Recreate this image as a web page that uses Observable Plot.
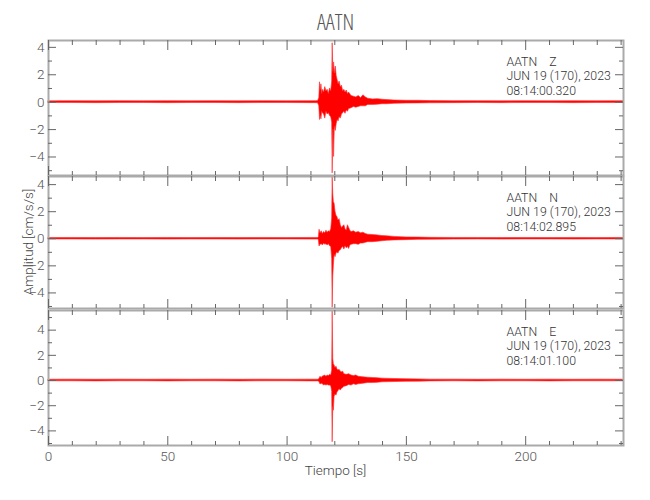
<!DOCTYPE html>
<html><head><meta charset="utf-8">
<script src="https://cdn.jsdelivr.net/npm/d3@7"></script>
<script src="https://cdn.jsdelivr.net/npm/@observablehq/plot@0.6"></script>
<style>
body{margin:0;background:#fff;}
#wrap{position:relative;width:650px;height:500px;overflow:hidden;font-family:Roboto,sans-serif;font-weight:300;}
.p{position:absolute;left:0;}
#title{position:absolute;top:9px;left:48px;width:575px;text-align:center;font-family:"Open Sans",sans-serif;font-stretch:condensed;font-weight:300;font-size:22px;line-height:1.1;color:#555;}
#ylab{position:absolute;left:28px;top:242px;transform:translate(-50%,-50%) rotate(-90deg);font-size:13.5px;color:#444;white-space:nowrap;}
#xlab{position:absolute;left:48px;width:575px;top:462px;text-align:center;font-size:13.5px;color:#444;}
</style></head>
<body><div id="wrap"><div id="title">AATN</div><div id="ylab">Amplitud [cm/s/s]</div><div id="xlab">Tiempo [s]</div></div>
<script>
const station = "AATN";
const components = ["Z", "N", "E"];
const dateLabel = "JUN 19 (170), 2023";
const startTimes = ["08:14:00.320", "08:14:02.895", "08:14:01.100"];
const xTicks = [0, 50, 100, 150, 200];
const yTicks = [-4, -2, 0, 2, 4];

// [time s, upper envelope, lower envelope]
const traceZ = [[0,0.06,-0.06],[10,0.07,-0.06],[20,0.06,-0.07],[30,0.07,-0.06],[40,0.06,-0.06],[50,0.07,-0.07],[60,0.06,-0.06],[70,0.07,-0.06],[80,0.06,-0.07],[90,0.07,-0.06],[100,0.06,-0.06],[110,0.07,-0.07],[112,0.07,-0.07],
[113,0.08,-0.08],[113.5,0.3,-0.3],[113.8,1.45,-1.3],[114.1,0.9,-1.0],[114.4,1.3,-1.25],[114.7,0.6,-0.7],[115,0.9,-0.8],[115.5,0.7,-0.9],[116,1.1,-1.2],[116.5,0.8,-0.7],[117,0.9,-0.9],[117.5,0.6,-0.8],[118,1.0,-1.0],[118.5,0.8,-1.1],[118.9,1.5,-1.5],[119.1,4.3,-5.2],[119.4,2.2,-2.0],[119.7,2.9,-4.0],[120,2.1,-1.8],[120.4,2.6,-2.1],[120.8,1.9,-1.6],[121.2,1.6,-1.3],[121.6,1.3,-1.4],[122,1.5,-1.1],[122.5,1.1,-1.2],[123,1.2,-0.9],[123.5,0.8,-0.8],[124,0.9,-0.7],[124.5,0.7,-0.85],[125,0.85,-0.6],[125.5,0.6,-0.7],[126,0.7,-0.5],[127,0.45,-0.45],[128,0.4,-0.35],[129,0.35,-0.4],[130,0.45,-0.35],[131,0.3,-0.3],[132,0.5,-0.3],[133,0.35,-0.3],[134,0.25,-0.2],[136,0.2,-0.2],[138,0.22,-0.18],[140,0.18,-0.15],[142,0.15,-0.15],[145,0.12,-0.12],[150,0.1,-0.1],[155,0.1,-0.09],[160,0.08,-0.08],[170,0.07,-0.07],[180,0.07,-0.06],[190,0.06,-0.07],[200,0.07,-0.06],[210,0.06,-0.06],[220,0.07,-0.07],[230,0.06,-0.06],[241,0.07,-0.06]];

const traceN = [[0,0.05,-0.05],[10,0.06,-0.05],[20,0.05,-0.06],[30,0.06,-0.05],[40,0.05,-0.05],[50,0.06,-0.06],[60,0.05,-0.05],[70,0.06,-0.05],[80,0.05,-0.06],[90,0.06,-0.05],[100,0.05,-0.05],[110,0.06,-0.06],[113,0.06,-0.06],
[113.3,0.1,-0.1],[113.6,0.67,-0.57],[114,0.4,-0.45],[114.5,0.55,-0.4],[115,0.35,-0.5],[115.5,0.5,-0.35],[116,0.4,-0.45],[116.5,0.6,-0.4],[117,0.45,-0.5],[117.5,0.55,-0.4],[118,0.5,-0.55],[118.5,0.7,-0.6],[118.9,1.5,-1.5],[119.1,4.6,-5.1],[119.35,3.3,-2.8],[119.6,2.7,-2.0],[119.9,2.6,-1.2],[120.3,2.0,-1.36],[120.7,1.7,-1.1],[121.1,1.6,-1.0],[121.5,1.35,-1.1],[122,1.45,-0.9],[122.5,1.0,-0.85],[123,0.8,-0.7],[123.5,0.9,-0.6],[124,1.0,-0.8],[124.5,0.7,-0.55],[125,0.6,-0.7],[125.5,1.0,-0.6],[126,0.8,-0.75],[126.5,0.6,-0.5],[127,0.5,-0.45],[128,0.55,-0.4],[129,0.45,-0.4],[130,0.5,-0.45],[131,0.4,-0.35],[132,0.45,-0.35],[133,0.35,-0.3],[134,0.3,-0.25],[136,0.28,-0.25],[138,0.25,-0.22],[140,0.2,-0.18],[142,0.18,-0.15],[145,0.14,-0.12],[150,0.1,-0.1],[155,0.09,-0.08],[160,0.07,-0.07],[170,0.06,-0.06],[180,0.06,-0.05],[190,0.05,-0.06],[200,0.06,-0.05],[210,0.05,-0.05],[220,0.06,-0.06],[230,0.05,-0.05],[241,0.06,-0.05]];

const traceE = [[0,0.06,-0.06],[10,0.07,-0.06],[20,0.06,-0.07],[30,0.07,-0.06],[40,0.06,-0.06],[50,0.07,-0.07],[60,0.06,-0.06],[70,0.07,-0.06],[80,0.06,-0.07],[90,0.07,-0.06],[100,0.06,-0.06],[110,0.07,-0.07],[113,0.07,-0.07],
[113.5,0.1,-0.1],[114,0.3,-0.32],[114.5,0.2,-0.25],[115,0.32,-0.3],[115.5,0.35,-0.4],[116,0.4,-0.35],[116.5,0.3,-0.4],[117,0.4,-0.35],[117.5,0.35,-0.4],[118,0.45,-0.4],[118.5,0.4,-0.45],[118.9,0.8,-0.9],[119.1,5.5,-4.9],[119.35,1.7,-2.1],[119.6,1.3,-2.4],[119.9,1.2,-1.3],[120.3,1.0,-1.1],[120.7,1.1,-1.2],[121.1,0.9,-0.95],[121.5,0.8,-0.85],[122,0.85,-0.7],[122.5,0.7,-0.8],[123,0.65,-0.65],[123.5,0.7,-0.6],[124,0.5,-0.5],[125,0.45,-0.45],[126,0.5,-0.35],[127,0.4,-0.4],[128,0.35,-0.3],[129,0.4,-0.35],[130,0.3,-0.3],[132,0.25,-0.25],[134,0.22,-0.2],[136,0.2,-0.2],[138,0.18,-0.18],[140,0.15,-0.14],[145,0.12,-0.12],[150,0.1,-0.1],[155,0.09,-0.09],[160,0.07,-0.07],[170,0.07,-0.06],[180,0.06,-0.07],[190,0.07,-0.06],[200,0.06,-0.06],[210,0.07,-0.07],[220,0.06,-0.06],[230,0.07,-0.06],[241,0.06,-0.06]];

const traces = [traceZ, traceN, traceE];
const yDomains = [[-5.35, 4.5], [-5.15, 4.6], [-5.16, 5.56]];
const xDomain = [0, 241];

const W = 650, ML = 48, MR = 27;
const layout = [
  {top: 0, height: 176, mt: 40, mb: 1},
  {top: 175, height: 134, mt: 1, mb: 1},
  {top: 308, height: 192, mt: 2, mb: 55}
];

const xMinor = d3.range(10, 241, 10).filter(v => v % 50 !== 0);
const xMajor = d3.range(0, 241, 50);

const wrap = document.getElementById("wrap");
traces.forEach((rows, i) => {
  const L = layout[i];
  const innerH = L.height - L.mt - L.mb;
  const innerW = W - ML - MR;
  const [ylo, yhi] = yDomains[i];
  const yMinor = d3.range(Math.ceil(ylo), Math.floor(yhi) + 1).filter(v => v % 2 !== 0);
  const yMajor = d3.range(Math.ceil(ylo), Math.floor(yhi) + 1).filter(v => v % 2 === 0);
  const tickColor = "#666";
  const marks = [
    Plot.areaY(rows, {x: d => d[0], y1: d => d[2], y2: d => d[1], fill: "#ff0000", stroke: "#ff3030", strokeWidth: 0.8, strokeOpacity: 0.8, curve: "linear"}),
    Plot.frame({stroke: "#aaa", strokeWidth: 2}),
    Plot.ruleX(xMinor, {x: d => d, insetBottom: innerH - 5, stroke: tickColor}),
    Plot.ruleX(xMajor, {x: d => d, insetBottom: innerH - 10, stroke: tickColor}),
    Plot.ruleX(xMinor, {x: d => d, insetTop: innerH - 4, stroke: tickColor}),
    Plot.ruleX(xMajor, {x: d => d, insetTop: innerH - 9, stroke: tickColor}),
    Plot.ruleY(yMinor, {y: d => d, insetRight: innerW - 4, stroke: tickColor}),
    Plot.ruleY(yMajor, {y: d => d, insetRight: innerW - 8, stroke: tickColor}),
    Plot.ruleY(yMinor, {y: d => d, insetLeft: innerW - 4, stroke: tickColor}),
    Plot.ruleY(yMajor, {y: d => d, insetLeft: innerW - 8, stroke: tickColor}),
    Plot.axisY({ticks: yTicks, tickSize: 0, tickPadding: 4, label: null, color: "#555"}),
    Plot.text([`${station}\u00a0\u00a0\u00a0\u00a0${components[i]}\n${dateLabel}\n${startTimes[i]}`], {
      frameAnchor: "top-right", textAnchor: "start", lineAnchor: "top", dx: -117, dy: 15,
      lineHeight: 1.18, fontSize: 12.3, fill: "#333"
    })
  ];
  if (i === 2) {
    marks.push(Plot.axisX({ticks: xTicks, tickSize: 0, tickPadding: 6, label: null, color: "#555", anchor: "bottom"}));
  }
  const chart = Plot.plot({
    width: W, height: L.height,
    marginLeft: ML, marginRight: MR, marginTop: L.mt, marginBottom: L.mb,
    x: {domain: xDomain, axis: null},
    y: {domain: yDomains[i], axis: null},
    style: {fontFamily: "Roboto, sans-serif", fontWeight: 300, fontSize: "13.5px", background: "transparent", overflow: "visible"},
    marks
  });
  chart.classList.add("p");
  chart.style.top = L.top + "px";
  wrap.appendChild(chart);
});
</script>
</body></html>
